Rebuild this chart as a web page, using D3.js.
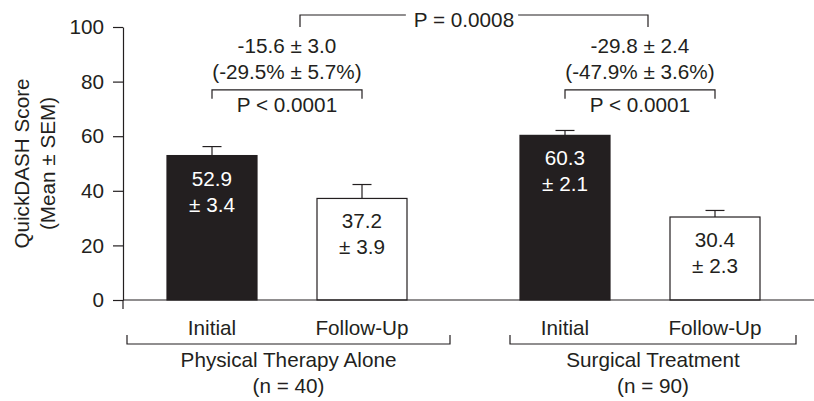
<!DOCTYPE html>
<html>
<head>
<meta charset="utf-8">
<script src="https://cdn.jsdelivr.net/npm/d3@7"></script>
<style>
  body { margin: 0; background: #fff; }
  svg text { font-family: "Liberation Sans", Arial, Helvetica, sans-serif; font-size: 20.7px; fill: #231f20; }
</style>
</head>
<body>
<svg id="chart" width="814" height="401"></svg>
<script>
// values
var groups = ["Physical Therapy Alone", "Surgical Treatment"];
var groupN = ["(n = 40)", "(n = 90)"];
var phases = ["Initial", "Follow-Up"];
var means = [[52.9, 37.2], [60.3, 30.4]];
var sems = [[3.4, 3.9], [2.1, 2.3]];
// drawn length of the error bars (as seen in the picture)
var whiskers = [[3.3, 5.1], [1.8, 2.4]];
var changes = ["-15.6 \u00b1 3.0", "-29.8 \u00b1 2.4"];
var pctChanges = ["(-29.5% \u00b1 5.7%)", "(-47.9% \u00b1 3.6%)"];
var withinP = ["P < 0.0001", "P < 0.0001"];
var betweenP = "P = 0.0008";
var yTicks = [0, 20, 40, 60, 80, 100];

var ink = "#231f20";
var svg = d3.select("#chart");

var y = d3.scaleLinear().domain([0, 100]).range([300, 27]);
var x0 = d3.scalePoint().domain(groups).range([287, 640]);
var x1 = d3.scalePoint().domain(phases).range([-75, 75]);
var barW = 90;

// flatten data
var bars = [];
groups.forEach(function(g, i) {
  phases.forEach(function(p, j) {
    bars.push({group: g, phase: p, mean: means[i][j], sem: sems[i][j], whisker: whiskers[i][j],
               cx: x0(g) + x1(p)});
  });
});

// y axis
var yAxis = d3.axisLeft(y).tickValues(yTicks).tickSize(10).tickSizeOuter(0).tickPadding(9);
var gy = svg.append("g").attr("transform", "translate(123,0)").call(yAxis);
gy.selectAll("path, line").attr("stroke", ink).attr("stroke-width", 1.2);
gy.selectAll("text").attr("font-size", 20.7).attr("fill", ink)
  .style("font-family", '"Liberation Sans", Arial, sans-serif');
gy.append("line").attr("x1", 0).attr("x2", 0).attr("y1", y(0)).attr("y2", y(0) + 9)
  .attr("stroke", ink).attr("stroke-width", 1.2);

// y title
var title = svg.append("text")
  .attr("transform", "translate(0," + (y(0) + y(100)) / 2 + ") rotate(-90)")
  .attr("text-anchor", "middle");
title.append("tspan").attr("x", 0).attr("y", 29).text("QuickDASH Score");
title.append("tspan").attr("x", 0).attr("y", 55).text("(Mean \u00b1 SEM)");

// error bars (upper only)
var eb = svg.append("g");
bars.forEach(function(d) {
  eb.append("line").attr("x1", d.cx).attr("x2", d.cx)
    .attr("y1", y(d.mean)).attr("y2", y(d.mean + d.whisker))
    .attr("stroke", ink).attr("stroke-width", 1.2);
  eb.append("line").attr("x1", d.cx - 9.5).attr("x2", d.cx + 9.5)
    .attr("y1", y(d.mean + d.whisker)).attr("y2", y(d.mean + d.whisker))
    .attr("stroke", ink).attr("stroke-width", 1.2);
});

// bars
svg.selectAll("rect.bar").data(bars).enter()
  .append("rect").attr("class", "bar")
  .attr("x", function(d) { return d.cx - barW / 2; })
  .attr("y", function(d) { return y(d.mean); })
  .attr("width", barW)
  .attr("height", function(d) { return y(0) - y(d.mean); })
  .attr("fill", function(d) { return d.phase == "Initial" ? ink : "#fff"; })
  .attr("stroke", ink).attr("stroke-width", 1.2);

// baseline
svg.append("line").attr("x1", 123).attr("x2", 814).attr("y1", y(0)).attr("y2", y(0))
  .attr("stroke", ink).attr("stroke-width", 1.2);

// value labels inside bars
bars.forEach(function(d) {
  var col = d.phase == "Initial" ? "#fff" : ink;
  var t = svg.append("text").attr("text-anchor", "middle").style("fill", col);
  t.append("tspan").attr("x", d.cx).attr("y", y(d.mean) + 30).text(d.mean.toFixed(1));
  t.append("tspan").attr("x", d.cx).attr("y", y(d.mean) + 56).text("\u00b1 " + d.sem.toFixed(1));
});

// category labels
svg.selectAll("text.phase").data(bars).enter()
  .append("text").attr("class", "phase")
  .attr("x", function(d) { return d.cx; })
  .attr("y", 335)
  .attr("text-anchor", "middle")
  .text(function(d) { return d.phase; });

// group brackets below axis
var bracketPad = [[-40, 43], [-10, 36]];
groups.forEach(function(g, i) {
  var l = x0(g) + x1(phases[0]) - barW / 2 + bracketPad[i][0];
  var r = x0(g) + x1(phases[1]) + barW / 2 + bracketPad[i][1];
  svg.append("path")
    .attr("d", "M" + l + ",335V344H" + r + "V335")
    .attr("fill", "none").attr("stroke", ink).attr("stroke-width", 1.2);
  var t = svg.append("text").attr("text-anchor", "middle");
  t.append("tspan").attr("x", (l + r) / 2).attr("y", 367).text(g);
  t.append("tspan").attr("x", (l + r) / 2).attr("y", 393).text(groupN[i]);
});

// within-group comparison brackets
groups.forEach(function(g, i) {
  var l = x0(g) + x1(phases[0]);
  var r = x0(g) + x1(phases[1]);
  var by = y(77);
  svg.append("path")
    .attr("d", "M" + l + "," + (by + 9) + "V" + by + "H" + r + "V" + (by + 9))
    .attr("fill", "none").attr("stroke", ink).attr("stroke-width", 1.2);
  var c = (l + r) / 2;
  svg.append("text").attr("x", c).attr("y", by - 37).attr("text-anchor", "middle").text(changes[i]);
  svg.append("text").attr("x", c).attr("y", by - 11).attr("text-anchor", "middle").text(pctChanges[i]);
  svg.append("text").attr("x", c).attr("y", by + 22).attr("text-anchor", "middle").text(withinP[i]);
});

// between-group bracket
var bl = x0(groups[0]) + 13, br = x0(groups[1]) + 8, bty = 15;
var pt = svg.append("text").attr("x", (bl + br) / 2 - 10).attr("y", bty + 12)
  .attr("text-anchor", "middle").text(betweenP);
var bb = pt.node().getBBox();
svg.append("path")
  .attr("d", "M" + bl + "," + y(100) + "V" + bty + "H" + (bb.x - 8))
  .attr("fill", "none").attr("stroke", ink).attr("stroke-width", 1.2);
svg.append("path")
  .attr("d", "M" + (bb.x + bb.width + 4) + "," + bty + "H" + br + "V" + y(100))
  .attr("fill", "none").attr("stroke", ink).attr("stroke-width", 1.2);
</script>
</body>
</html>
